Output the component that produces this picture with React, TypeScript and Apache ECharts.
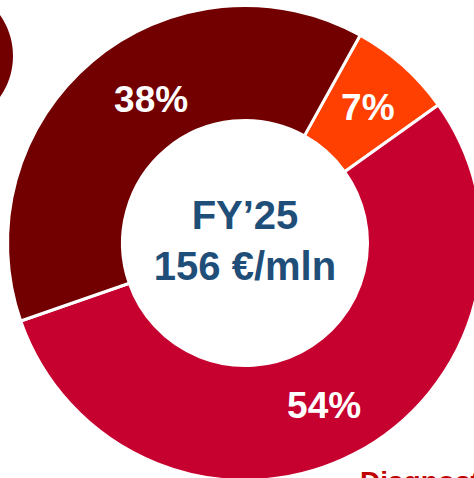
import React, { useEffect, useRef } from "react";
import * as echarts from "echarts";

const categories = ["Segment A", "Segment B", "Segment C"];
const values = [7, 54, 38];
const colors = ["#FF4000", "#C6002F", "#720000"];
const centerTitle = "FY’25";
const centerSubtitle = "156 €/mln";
const cornerLabel = "Diagnostics";

const FONT = "'Liberation Sans', Arial, Helvetica, sans-serif";

export default function App() {
  const ref = useRef<HTMLDivElement>(null);
  useEffect(() => {
    if (!ref.current) return;
    const chart = echarts.init(ref.current, undefined, { renderer: "svg" });
    const labelOffsets = [
      { dx: 1, dy: 1 },
      { dx: -5, dy: 0 },
      { dx: 24, dy: -4 },
    ];
    chart.setOption({
      animation: false,
      backgroundColor: "#ffffff",
      graphic: [
        {
          type: "circle",
          shape: { cx: -58, cy: 56, r: 71 },
          style: { fill: "#720000" },
          z: 10,
        },
        {
          type: "text",
          x: 245,
          y: 215,
          style: {
            text: centerTitle,
            fill: "#1F4E79",
            font: `bold 40px ${FONT}`,
            textAlign: "center",
            textVerticalAlign: "middle",
          },
          z: 10,
        },
        {
          type: "text",
          x: 245,
          y: 266,
          style: {
            text: centerSubtitle,
            fill: "#1F4E79",
            font: `bold 40px ${FONT}`,
            textAlign: "center",
            textVerticalAlign: "middle",
          },
          z: 10,
        },
        {
          type: "text",
          x: 360,
          y: 481,
          style: {
            text: cornerLabel,
            fill: "#C00000",
            font: `bold 28px ${FONT}`,
            textAlign: "left",
            textVerticalAlign: "middle",
          },
          z: 10,
        },
      ],
      series: [
        {
          type: "pie",
          center: [245, 243],
          radius: [122.5, 237.5],
          startAngle: 61,
          clockwise: true,
          avoidLabelOverlap: false,
          label: {
            show: true,
            position: "inside",
            formatter: (p: any) => `${p.value}%`,
            color: "#ffffff",
            fontFamily: FONT,
            fontWeight: "bold",
            fontSize: 37,
          },
          labelLine: { show: false },
          labelLayout: (params: any) => labelOffsets[params.dataIndex],
          itemStyle: { borderColor: "#ffffff", borderWidth: 3 },
          emphasis: { disabled: true },
          data: categories.map((name, i) => ({
            name,
            value: values[i],
            itemStyle: { color: colors[i] },
          })),
        },
      ],
    });
    return () => chart.dispose();
  }, []);
  return (
    <div
      ref={ref}
      style={{ position: "fixed", left: 0, top: 0, width: 474, height: 478 }}
    />
  );
}
